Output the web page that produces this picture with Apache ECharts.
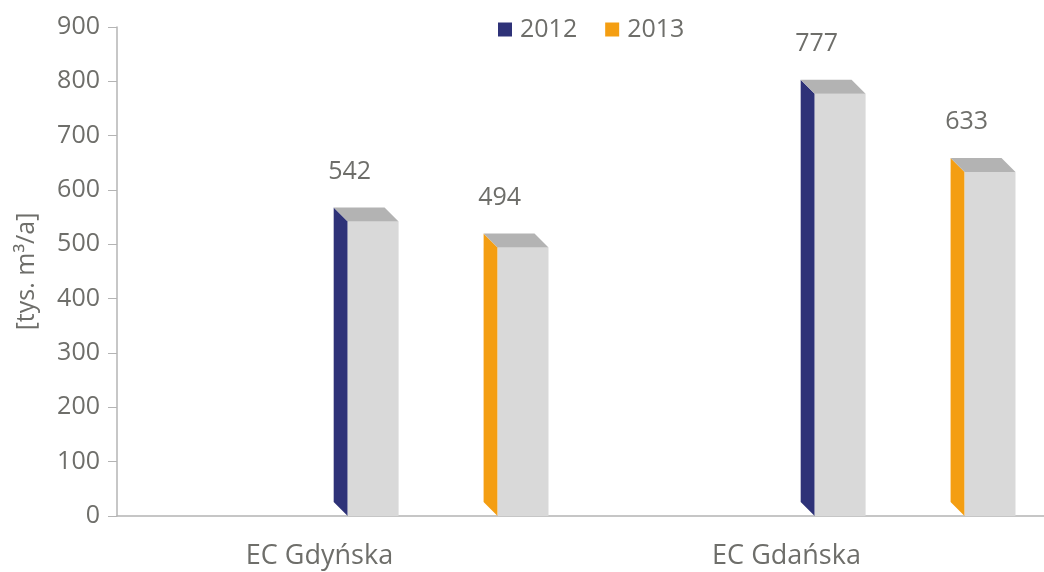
<!DOCTYPE html>
<html>
<head>
<meta charset="utf-8">
<script src="https://cdn.jsdelivr.net/npm/echarts@6/dist/echarts.min.js"></script>
<style>
  html, body { margin: 0; padding: 0; background: #fff; }
  #chart { width: 1044px; height: 572px; }
</style>
</head>
<body>
<div id="chart"></div>
<script>
const categories = ['EC Gdyńska', 'EC Gdańska'];
const years = ['2012', '2013'];
const values2012 = [542, 777];
const values2013 = [494, 633];
const yMin = 0;
const yMax = 900;
const yStep = 100;

const textColor = '#6e6e6a';
const font = 'Open Sans';
const sideColors = ['#2e3278', '#f49e12'];
// offset of the front face inside the category band, and its width (fractions of the band)
const barOffsets = [-0.006, 0.315];

function render3dBar(seriesIdx) {
  return function (params, api) {
    const i = api.value(0);
    const v = api.value(1);
    const top = api.coord([i, v]);
    const base = api.coord([i, 0]);
    const band = api.size([1, 0])[0];
    const w = band * 0.109;
    const d = band * 0.03;
    const x0 = top[0] + band * barOffsets[seriesIdx];
    const yTop = top[1];
    const yBase = base[1];
    return {
      type: 'group',
      children: [
        {
          type: 'polygon',
          shape: { points: [[x0, yTop], [x0 - d, yTop - d], [x0 - d, yBase - d], [x0, yBase]] },
          style: { fill: sideColors[seriesIdx] }
        },
        {
          type: 'rect',
          shape: { x: x0, y: yTop, width: w, height: yBase - yTop },
          style: { fill: '#d9d9d9' }
        },
        {
          type: 'polygon',
          shape: { points: [[x0, yTop], [x0 + w, yTop], [x0 + w - d, yTop - d], [x0 - d, yTop - d]] },
          style: { fill: '#b3b3b3' }
        },
        {
          type: 'text',
          style: {
            text: String(v),
            x: x0 + 2,
            y: yTop - d - 36,
            align: 'center',
            verticalAlign: 'middle',
            fill: textColor,
            fontSize: 25,
            fontFamily: font
          }
        }
      ]
    };
  };
}

const chart = echarts.init(document.getElementById('chart'));
chart.setOption({
  animation: false,
  textStyle: { fontFamily: font },
  legend: {
    data: years,
    left: 498,
    top: 17,
    padding: 0,
    icon: 'rect',
    itemWidth: 14,
    itemHeight: 14,
    itemGap: 28,
    textStyle: { fontSize: 25, color: textColor, fontFamily: font, padding: [0, 0, 0, 3] }
  },
  grid: { left: 117, top: 27, bottom: 56, width: 934, outerBoundsMode: 'none' },
  xAxis: {
    type: 'category',
    data: categories,
    axisLine: { lineStyle: { color: '#b4b4b4', width: 1.5 } },
    axisTick: { length: 8, lineStyle: { color: '#b4b4b4' } },
    axisLabel: {
      fontSize: 27,
      color: textColor,
      fontFamily: font,
      margin: 27,
      padding: [0, 62, 0, 0]
    }
  },
  yAxis: {
    type: 'value',
    min: yMin,
    max: yMax,
    interval: yStep,
    name: '[tys. m³/a]',
    nameLocation: 'middle',
    nameGap: 78,
    nameTextStyle: { fontSize: 25, color: textColor, fontFamily: font },
    splitLine: { show: false },
    axisLine: { show: true, lineStyle: { color: '#b4b4b4', width: 1.5 } },
    axisTick: { show: true, length: 9, lineStyle: { color: '#b4b4b4' } },
    axisLabel: { fontSize: 25, color: textColor, fontFamily: font, margin: 17 }
  },
  series: [
    {
      name: years[0],
      type: 'custom',
      itemStyle: { color: sideColors[0] },
      renderItem: render3dBar(0),
      data: values2012.map((v, i) => [i, v])
    },
    {
      name: years[1],
      type: 'custom',
      itemStyle: { color: sideColors[1] },
      renderItem: render3dBar(1),
      data: values2013.map((v, i) => [i, v])
    }
  ]
});
</script>
</body>
</html>
